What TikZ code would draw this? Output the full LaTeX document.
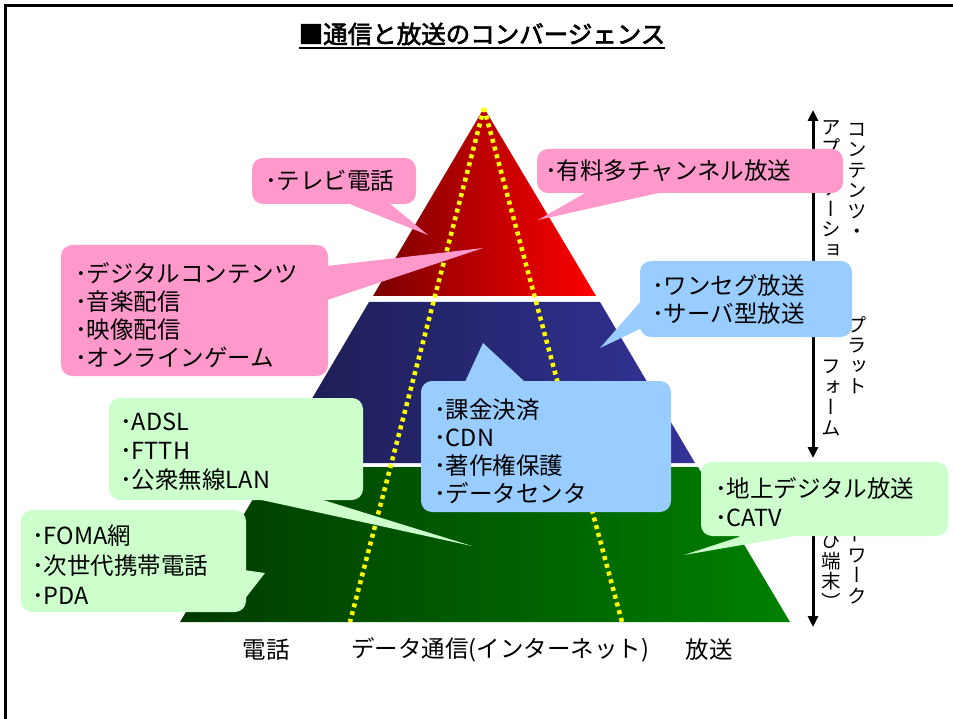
\documentclass[tikz,border=0pt]{standalone}
\usepackage{fontspec}
\setmainfont{Noto Sans CJK JP}[AutoFakeBold=2.5]
\newfontfamily\vjp{Noto Sans CJK JP}[RawFeature=+vert]
\usetikzlibrary{arrows.meta}
\definecolor{pinkc}{HTML}{FF99CC}
\definecolor{bluec}{HTML}{99CCFF}
\definecolor{greenc}{HTML}{CCFFCC}
\definecolor{redL}{HTML}{7A0000}
\definecolor{redR}{HTML}{FF0000}
\definecolor{blueL}{HTML}{1C1C50}
\definecolor{blueR}{HTML}{333399}
\definecolor{greenL}{HTML}{003A00}
\definecolor{greenR}{HTML}{008000}
\definecolor{yel}{HTML}{FFFF00}
\tikzset{
  yeldots/.style={draw=yel, line width=4.5pt, dash pattern=on 4pt off 4pt},
  callbox/.style={rounded corners=11pt},
  calltext/.style={align=left, anchor=west, inner sep=0pt},
  vcol/.style={font={\vjp\fontsize{19.5}{20.5}\selectfont}, align=center, anchor=north, inner sep=0pt},
  bottomlabel/.style={font=\fontsize{23.5}{26}\selectfont, inner sep=0pt},
  sidearrow/.style={line width=3pt, {Triangle[length=11pt,width=10pt]}-{Triangle[length=11pt,width=10pt]}},
}
\begin{document}
\begin{tikzpicture}[x=1pt,y=-1pt]
\useasboundingbox (0,0) rectangle (953,719);
% frame
\draw[line width=3pt] (5,719) -- (5,6) -- (953,6);
% title
\node[font=\fontsize{24.5}{30}\selectfont\bfseries, inner sep=0pt] (title) at (482,34) {■通信と放送のコンバージェンス};
\draw[line width=2pt] ([yshift=-5pt]title.base west) -- ([yshift=-5pt]title.base east);
% pyramid
\shade[left color=redL, right color=redR] (484,108) -- (596,296) -- (373,296) -- cycle;
\shade[left color=blueL, right color=blueR] (369,302) -- (600,302) -- (695,463) -- (274,463) -- cycle;
\shade[left color=greenL, right color=greenR] (272,467) -- (698,467) -- (790,622) -- (180,622) -- cycle;
% yellow dotted lines
\coordinate (apex) at (484,108);
\coordinate (dl) at (350,622);
\coordinate (dr) at (622,622);
\draw[yeldots] (apex) -- (dl);
\draw[yeldots] (apex) -- (dr);
% side arrows
\coordinate (a1) at (813,110);
\coordinate (a2) at (813,458);
\coordinate (a3) at (813,466);
\coordinate (a4) at (813,627);
\draw[sidearrow] (a1) -- (a2);
\draw[sidearrow] (a3) -- (a4);
% vertical texts
\node[vcol] (v1) at (857,123) {コ\\ン\\テ\\ン\\ツ\\・};
\node[vcol] (v2) at (831,120) {ア\\プ\\リ\\ケ\\ー\\シ\\ョ\\ン};
\node[vcol] (v3) at (857,316) {プ\\ラ\\ッ\\ト};
\node[vcol] (v4) at (831,360) {フ\\ォ\\ー\\ム};
\node[vcol] (v5) at (857,485) {ネ\\ッ\\ト\\ワ\\ー\\ク};
\node[vcol] (v6) at (831,503) {（\\及\\び\\端\\末\\）};
% callouts - pink
\fill[pinkc, callbox] (252,158) rectangle (416,204);
\fill[pinkc] (347,203) -- (428,235) -- (389,203) -- cycle;
\node[calltext, font=\fontsize{23.5}{28}\selectfont] (c1) at (265,181) {･テレビ電話};
\fill[pinkc, callbox] (537,149) rectangle (843,193);
\fill[pinkc] (587,192) -- (538,220) -- (663,192) -- cycle;
\node[calltext, font=\fontsize{23.5}{28}\selectfont] (c2) at (545,171) {･有料多チャンネル放送};
\fill[pinkc, callbox] (61,245) rectangle (328,376);
\fill[pinkc] (327,266) -- (483,248) -- (327,300) -- cycle;
\node[calltext, font=\fontsize{23.5}{28}\selectfont] (c3) at (75,315) {･デジタルコンテンツ\\･音楽配信\\･映像配信\\･オンラインゲーム};
% callouts - blue
\fill[bluec, callbox] (640,261) rectangle (852,337);
\fill[bluec] (642,300) -- (600,348) -- (642,328) -- cycle;
\node[calltext, font=\fontsize{23.5}{28}\selectfont] (c4) at (652,300) {･ワンセグ放送\\･サーバ型放送};
\fill[bluec, callbox] (421,381) rectangle (671,512);
\fill[bluec] (465,382) -- (483,343) -- (525,382) -- cycle;
\node[calltext, font=\fontsize{23.5}{28}\selectfont] (c5) at (434,451) {･課金決済\\･CDN\\･著作権保護\\･データセンタ};
% callouts - green
\fill[greenc, callbox] (109,398) rectangle (363,500);
\fill[greenc] (257,499) -- (472,546) -- (320,499) -- cycle;
\node[calltext, font=\fontsize{23.5}{29}\selectfont] (c6) at (120,452) {･ADSL\\･FTTH\\･公衆無線LAN};
\fill[greenc, callbox] (21,510) rectangle (246,612);
\fill[greenc] (244,570) -- (265,573) -- (244,600) -- cycle;
\node[calltext, font=\fontsize{23.5}{30}\selectfont] (c7) at (32,565) {･FOMA網\\･次世代携帯電話\\･PDA};
\fill[greenc, callbox] (701,462) rectangle (948,536);
\fill[greenc] (745,535) -- (684,555) -- (800,535) -- cycle;
\node[calltext, font=\fontsize{23.5}{29}\selectfont] (c8) at (715,502) {･地上デジタル放送\\･CATV};
% bottom labels
\node[bottomlabel] (b1) at (266,650) {電話};
\node[bottomlabel] (b2) at (500,650) {データ通信(インターネット)};
\node[bottomlabel] (b3) at (709,650) {放送};
\end{tikzpicture}
\end{document}
